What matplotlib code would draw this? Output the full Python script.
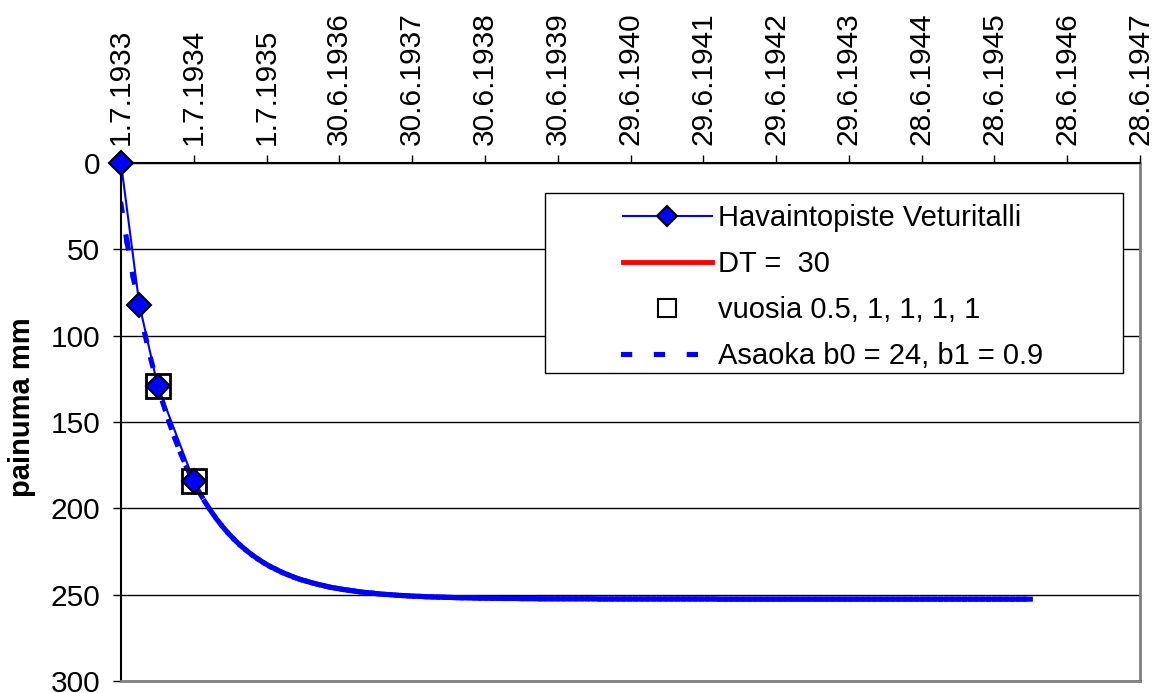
import matplotlib
matplotlib.use("Agg")
import matplotlib.pyplot as plt
from matplotlib.collections import LineCollection
from matplotlib.lines import Line2D
from matplotlib.patches import Rectangle

plt.rcParams['font.family'] = ['Liberation Sans', 'DejaVu Sans']

# x = days since 1.7.1933, tick every 365 days
tick_days = [365 * i for i in range(15)]
tick_labels = ["1.7.1933", "1.7.1934", "1.7.1935", "30.6.1936", "30.6.1937",
               "30.6.1938", "30.6.1939", "29.6.1940", "29.6.1941", "29.6.1942",
               "29.6.1943", "28.6.1944", "28.6.1945", "28.6.1946", "28.6.1947"]

# measured settlement (Havaintopiste Veturitalli)
obs_days = [0, 92, 184, 365]
obs_mm = [0, 82, 129, 184]

# points used in the Asaoka fit (vuosia 0.5, 1, ...)
fit_days = [184, 365]
fit_mm = [129, 184]

# Asaoka curve, one value every 30 days from 1.7.1933
asaoka_step = 30
asaoka_mm = [
    24.0, 45.7, 65.4, 83.2, 99.2, 113.8, 127.0, 138.9, 149.7, 159.5,
    168.4, 176.4, 183.6, 190.2, 196.1, 201.4, 206.3, 210.7, 214.7, 218.3,
    221.6, 224.5, 227.2, 229.6, 231.8, 233.8, 235.5, 237.2, 238.6, 240.0,
    241.2, 242.2, 243.2, 244.1, 244.9, 245.7, 246.3, 246.9, 247.4, 247.9,
    248.4, 248.8, 249.1, 249.5, 249.8, 250.0, 250.3, 250.5, 250.7, 250.9,
    251.0, 251.2, 251.3, 251.4, 251.5, 251.6, 251.7, 251.8, 251.8, 251.9,
    252.0, 252.0, 252.1, 252.1, 252.2, 252.2, 252.2, 252.3, 252.3, 252.3,
    252.4, 252.4, 252.4, 252.4, 252.4, 252.4, 252.4, 252.4, 252.4, 252.4,
    252.5, 252.5, 252.5, 252.5, 252.5, 252.5, 252.5, 252.5, 252.5, 252.5,
    252.5, 252.5, 252.5, 252.5, 252.5, 252.5, 252.5, 252.5, 252.5, 252.5,
    252.6, 252.6, 252.6, 252.6, 252.6, 252.6, 252.6, 252.6, 252.6, 252.6,
    252.6, 252.6, 252.6, 252.6, 252.6, 252.6, 252.6, 252.6, 252.6, 252.6,
    252.6, 252.6, 252.6, 252.6, 252.6, 252.6, 252.6, 252.6, 252.6, 252.6,
    252.6, 252.6, 252.6, 252.6, 252.6, 252.6, 252.6, 252.6, 252.6, 252.6,
    252.6, 252.6, 252.6, 252.6, 252.6, 252.6, 252.6, 252.6, 252.6, 252.6,
    252.6, 252.6, 252.6,
]
asaoka_days = [asaoka_step * k for k in range(len(asaoka_mm))]

# DT = 30 series has no visible data
dt_days = []
dt_mm = []

fig = plt.figure(figsize=(11.58, 6.93), dpi=100)
ax = fig.add_axes([121 / 1158, 12 / 693, 1019 / 1158, 518 / 693])

ax.set_xlim(0, 5110)
ax.set_ylim(300, 0)
ax.set_yticks(range(0, 301, 50))
ax.set_xticks(tick_days)
ax.set_xticklabels(tick_labels)
ax.xaxis.tick_top()
ax.tick_params(axis='x', labelrotation=90, labelsize=21.5, length=6, width=1, pad=7)
ax.tick_params(axis='y', labelsize=21.5, length=6, width=1, pad=9)
ax.yaxis.grid(True, color='black', linewidth=1)
ax.set_axisbelow(True)

for side in ['top', 'left']:
    ax.spines[side].set_color('black')
    ax.spines[side].set_linewidth(1.5)
for side in ['right', 'bottom']:
    ax.spines[side].set_color('#808080')
    ax.spines[side].set_linewidth(2)

# Asaoka line: dash pattern restarts at every segment (like Excel)
dash = (0, (1.2, 5.2))
segs = [[(asaoka_days[i], asaoka_mm[i]), (asaoka_days[i + 1], asaoka_mm[i + 1])]
        for i in range(len(asaoka_mm) - 1)]
lc = LineCollection(segs, colors='#0000FF', linewidths=3.7,
                    linestyles=[dash], capstyle='projecting', zorder=2)
lc.set_snap(False)
ax.add_collection(lc)

ax.plot(dt_days, dt_mm, color='red', linewidth=3.5, zorder=2)
ax.plot(obs_days, obs_mm, color='#0000FF', linewidth=1.5, marker='D',
        markersize=12, markerfacecolor='#0000FF', markeredgecolor='black',
        markeredgewidth=1.5, zorder=3, clip_on=False)
ax.plot(fit_days, fit_mm, linestyle='none', marker='s', markersize=17,
        markerfacecolor='none', markeredgecolor='black', markeredgewidth=2,
        zorder=4)

fig.text(22 / 1158, 1 - 407 / 693, "painuma mm", rotation=90, fontsize=21,
         fontweight='bold', ha='center', va='center')

# legend with its own frame
handles = [
    Line2D([], [], color='#0000FF', linewidth=1.5, marker='D', markersize=10.5,
           markerfacecolor='#0000FF', markeredgecolor='black', markeredgewidth=1.5),
    Line2D([], [], color='red', linewidth=3.5),
    Line2D([], [], linestyle='none', marker='s', markersize=13,
           markerfacecolor='none', markeredgecolor='black', markeredgewidth=1.5),
    Line2D([], [], color='#0000FF', linewidth=3.7, linestyle=dash,
           dash_capstyle='projecting'),
]
labels = ["Havaintopiste Veturitalli", "DT =  30", "vuosia 0.5, 1, 1, 1, 1",
          "Asaoka b0 = 24, b1 = 0.9"]
ax.legend(handles, labels, loc='upper left',
          bbox_to_anchor=((623 - 121) / 1019, 1 - (204 - 163) / 518),
          frameon=False, fontsize=21, borderpad=0, borderaxespad=0,
          handlelength=3.05, handletextpad=0.2, labelspacing=0.62)
ax.add_patch(Rectangle(((545 - 121) / 1019, 1 - (373 - 163) / 518),
                       (1123 - 545) / 1019, (373 - 193) / 518,
                       transform=ax.transAxes, facecolor='white',
                       edgecolor='black', linewidth=1, zorder=5))
ax.get_legend().set_zorder(6)

fig.savefig("out.png", dpi=100)
